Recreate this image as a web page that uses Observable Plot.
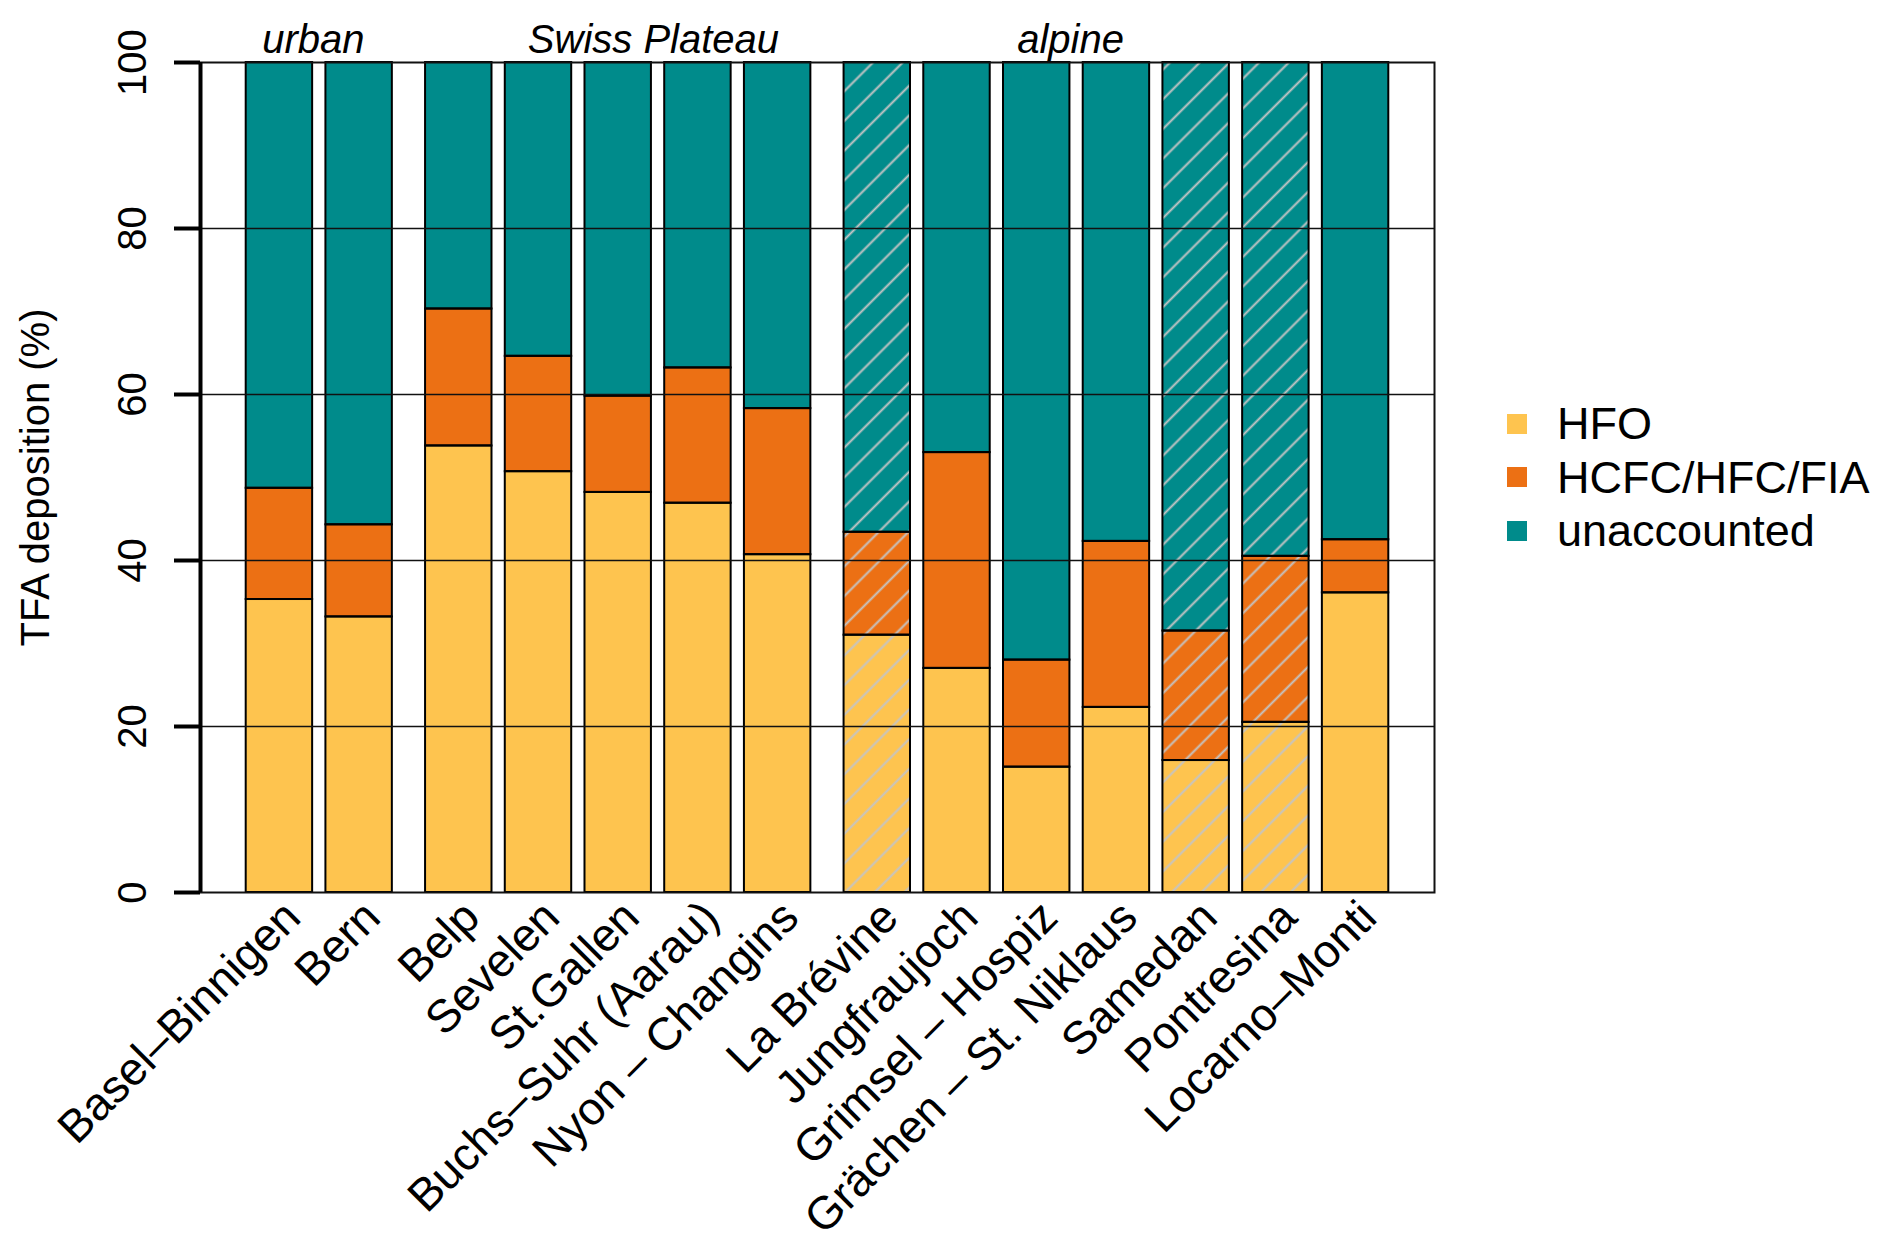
<!DOCTYPE html>
<html><head><meta charset="utf-8">
<script src="https://cdn.jsdelivr.net/npm/d3@7"></script>
<script src="https://cdn.jsdelivr.net/npm/@observablehq/plot@0.6"></script>
<style>
body{margin:0;background:#fff;font-family:"Liberation Sans",Arial,Helvetica,sans-serif;}
#wrap{position:relative;width:1892px;height:1243px;overflow:hidden;}
#legend{position:absolute;left:1507px;top:397px;}
.row{display:flex;align-items:center;height:53.5px;}
.sw{width:20px;height:20px;margin-right:30px;flex:none;}
.lab{font-size:45px;line-height:1;color:#000;white-space:nowrap;}
</style></head><body><div id="wrap"></div>
<script>
// ---- data ----
const groups = ["urban", "Swiss Plateau", "alpine"];
const stations = ["Basel–Binnigen", "Bern", "Belp", "Sevelen", "St.Gallen", "Buchs–Suhr (Aarau)", "Nyon – Changins",
  "La Brévine", "Jungfraujoch", "Grimsel – Hospiz", "Grächen – St. Niklaus", "Samedan", "Pontresina", "Locarno–Monti"];
const stationGroup = ["urban", "urban", "Swiss Plateau", "Swiss Plateau", "Swiss Plateau", "Swiss Plateau", "Swiss Plateau",
  "alpine", "alpine", "alpine", "alpine", "alpine", "alpine", "alpine"];
const hfo         = [35.3, 33.2, 53.8, 50.7, 48.2, 46.9, 40.7, 31.0, 27.0, 15.1, 22.3, 15.9, 20.5, 36.1];
const hcfc        = [13.4, 11.1, 16.5, 13.9, 11.6, 16.3, 17.6, 12.4, 26.0, 12.9, 20.0, 15.6, 20.0, 6.4];
const unaccounted = [51.3, 55.7, 29.7, 35.4, 40.2, 36.8, 41.7, 56.6, 47.0, 72.0, 57.7, 68.5, 59.5, 57.5];
const hatched = ["La Brévine", "Samedan", "Pontresina"];
const components = ["HFO", "HCFC/HFC/FIA", "unaccounted"];
const colors = ["#fec44f", "#ec7014", "#008b8b"];
const yTicks = [0, 20, 40, 60, 80, 100];
const gridTicks = [20, 40, 60, 80];
const yTitle = "TFA deposition (%)";

// ---- layout (R barplot style spacing) ----
const barSpace = 0.2, groupSpace = 0.5;
const groupLabelShift = {"urban": -0.09, "Swiss Plateau": 0.53, "alpine": -0.69};
const pos = [];
let cur = 0;
stations.forEach((s, i) => {
  cur += (i > 0 && stationGroup[i] !== stationGroup[i - 1]) ? groupSpace : barSpace;
  pos.push(cur);
  cur += 1;
});
const ext = 0.04 * (cur - pos[0]);
const xDomain = [pos[0] - ext, cur + ext];

const series = [hfo, hcfc, unaccounted];
const segs = [];
stations.forEach((s, i) => {
  let base = 0;
  series.forEach((arr, k) => {
    segs.push({station: s, x1: pos[i], x2: pos[i] + 1, y1: base, y2: base + arr[i], component: components[k]});
    base += arr[i];
  });
});
const bars = stations.map((s, i) => ({station: s, x1: pos[i], x2: pos[i] + 1, xc: pos[i] + 0.5, top: hfo[i] + hcfc[i] + unaccounted[i]}));
const hatchBars = bars.filter(d => hatched.includes(d.station));
const groupLabels = groups.map(g => {
  const idx = stations.map((s, i) => i).filter(i => stationGroup[i] === g);
  const a = pos[idx[0]], b = pos[idx[idx.length - 1]] + 1;
  return {name: g, x: (a + b) / 2 + groupLabelShift[g]};
});

const font = '"Liberation Sans", Arial, Helvetica, sans-serif';
const plot = Plot.plot({
  width: 1892, height: 1243,
  marginLeft: 200, marginRight: 458, marginTop: 62, marginBottom: 351,
  style: {fontFamily: font, background: "white", overflow: "visible", color: "#000"},
  x: {domain: xDomain, axis: null},
  y: {domain: [0, 100], axis: null, label: null},
  color: {domain: components, range: colors},
  marks: [
    Plot.rect(segs, {x1: "x1", x2: "x2", y1: "y1", y2: "y2", fill: "component"}),
    Plot.rect(hatchBars, {x1: "x1", x2: "x2", y1: () => 0, y2: "top", fill: "url(#hatch)"}),
    Plot.rect(segs, {x1: "x1", x2: "x2", y1: "y1", y2: "y2", fill: "none", stroke: "#000", strokeWidth: 2}),
    Plot.gridY(gridTicks, {stroke: "#111", strokeOpacity: 1, strokeWidth: 1.6}),
    Plot.frame({stroke: "#111", strokeWidth: 2}),
    Plot.ruleX([xDomain[0]], {y1: yTicks[0], y2: yTicks[yTicks.length - 1], stroke: "#000", strokeWidth: 4}),
    Plot.axisY(yTicks, {anchor: "left", label: null, tickSize: 26, tickPadding: 29, tickRotate: -90, fontSize: 40, strokeWidth: 4, stroke: "#000", fill: "#000"}),
    Plot.text([yTitle], {frameAnchor: "left", textAnchor: "middle", lineAnchor: "middle", rotate: -90, dx: -164, fontSize: 40, fill: "#000"}),
    Plot.text(bars, {x: "xc", frameAnchor: "bottom", text: "station", rotate: -45, textAnchor: "end", lineAnchor: "middle", dx: 13, dy: 17, fontSize: 46, fill: "#000"}),
    Plot.text(groupLabels, {x: "x", frameAnchor: "top", text: "name", fontStyle: "italic", textAnchor: "middle", lineAnchor: "bottom", dy: -10, fontSize: 40, fill: "#000"})
  ]
});

d3.select(plot).insert("defs", ":first-child").html(
  '<pattern id="hatch" patternUnits="userSpaceOnUse" width="21" height="21" patternTransform="rotate(45)">' +
  '<line x1="10.5" y1="-1" x2="10.5" y2="22" stroke="#c4c4c4" stroke-width="2"/></pattern>');

const wrap = document.getElementById("wrap");
wrap.appendChild(plot);
const legend = document.createElement("div");
legend.id = "legend";
components.forEach((c, i) => {
  const row = document.createElement("div");
  row.className = "row";
  row.innerHTML = `<div class="sw" style="background:${colors[i]}"></div><div class="lab">${c}</div>`;
  legend.appendChild(row);
});
wrap.appendChild(legend);
</script></body></html>
